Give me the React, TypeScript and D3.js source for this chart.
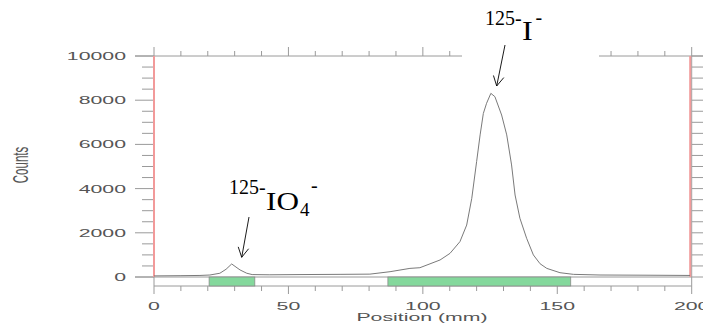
import * as d3 from 'd3'

// position (mm) vs counts
const positions = [0, 9.7, 17.1, 20.8, 24.5, 26.8, 28.9, 30.5, 32.0, 34.5, 36.5, 43.1, 54.3, 69.2, 80.3, 87.8, 95.2, 98.9, 106.4, 110.1, 113.8, 116.3, 118.2, 120.0, 121.3, 122.5, 123.7, 125.3, 126.8, 129.3, 131.2, 133.0, 134.3, 136.1, 138.6, 141.1, 143.6, 146.1, 151.0, 156.0, 165.9, 184.5, 199.4]
const counts = [50, 60, 70, 90, 170, 350, 590, 450, 320, 170, 110, 100, 110, 120, 130, 240, 390, 420, 770, 1070, 1600, 2350, 3560, 5220, 6430, 7400, 7860, 8310, 8160, 7330, 6430, 5070, 3710, 2660, 1750, 1000, 600, 390, 195, 120, 90, 80, 70]

// integration regions (mm)
const regionStart = [20.5, 87]
const regionEnd = [37.5, 155]

const yTickValues = [0, 2000, 4000, 6000, 8000, 10000]
const xTickValues = [0, 50, 100, 150, 200]

const W = 703
const H = 327
const axisColor = '#9a9a9a'
const labelColor = '#555'
const stretch = 1.85

const x = d3.scaleLinear().domain([0, 200]).range([154, 691.7])
const y = d3.scaleLinear().domain([0, 10000]).range([277, 56])
const stripBottom = 286

function StretchText({ tx, ty, anchor, children }: { tx: number; ty: number; anchor: string; children: string }) {
  return (
    <text
      transform={`translate(${tx},${ty}) scale(${stretch},1)`}
      textAnchor={anchor}
      fontFamily="'Liberation Sans', Arial, sans-serif"
      fontSize={11.5}
      fill={labelColor}
    >
      {children}
    </text>
  )
}

// hand-placed label pieces (serif, scanned so slightly distorted)
function Serif({ tx, ty, size, sx, children }: { tx: number; ty: number; size: number; sx: number; children: string }) {
  return (
    <text transform={`translate(${tx},${ty}) scale(${sx},1)`} fontSize={size}
      fontFamily="'Liberation Serif', 'Times New Roman', serif" fill="#000">
      {children}
    </text>
  )
}

function arrow(x1: number, y1: number, x2: number, y2: number) {
  const ang = Math.atan2(y2 - y1, x2 - x1)
  const len = 11
  const spread = 0.5
  const a1 = [x2 - len * Math.cos(ang - spread), y2 - len * Math.sin(ang - spread)]
  const a2 = [x2 - len * Math.cos(ang + spread), y2 - len * Math.sin(ang + spread)]
  return `M${x1},${y1}L${x2},${y2}M${a1[0]},${a1[1]}L${x2},${y2}L${a2[0]},${a2[1]}`
}

export default function App() {
  const line = d3.line<number>()
    .x((_, i) => x(positions[i]))
    .y((d) => y(d))

  const minorX = d3.range(0, 201, 10)
  const minorY = d3.range(0, 10001, 500)
  const x0 = x(0)
  const x1 = x(200)

  return (
    <svg width={W} height={H} style={{ position: 'absolute', left: 0, top: 0, background: '#fff' }}>
      <rect width={W} height={H} fill="#fff" />

      {/* frame lines */}
      <line x1={135} x2={W} y1={y(10000)} y2={y(10000)} stroke={axisColor} />
      <line x1={135} x2={x1} y1={y(0)} y2={y(0)} stroke={axisColor} />
      <line x1={x0} x2={x1} y1={stripBottom} y2={stripBottom} stroke={axisColor} />
      <line x1={x0} x2={x0} y1={y(10000)} y2={stripBottom} stroke={axisColor} />
      <line x1={x1} x2={x1} y1={y(10000)} y2={stripBottom} stroke={axisColor} />

      {/* left / right y ticks */}
      {minorY.map((v) => {
        const major = v % 2000 === 0
        return (
          <g key={'y' + v}>
            <line x1={major ? 135 : 142} x2={x0} y1={y(v)} y2={y(v)} stroke={axisColor} />
            <line x1={x1} x2={x1 + 12} y1={y(v)} y2={y(v)} stroke={axisColor} />
          </g>
        )
      })}

      {/* top and bottom x ticks */}
      {minorX.map((v) => {
        const major = v % 50 === 0
        return (
          <g key={'x' + v}>
            <line x1={x(v)} x2={x(v)} y1={y(10000)} y2={y(10000) - (major ? 9 : 5)} stroke={axisColor} />
            <line x1={x(v)} x2={x(v)} y1={stripBottom} y2={stripBottom + (major ? 8 : 5)} stroke={axisColor} />
          </g>
        )
      })}

      {/* integration regions */}
      {regionStart.map((s, i) => (
        <rect key={'r' + i} x={x(s)} y={y(0)} width={x(regionEnd[i]) - x(s)} height={stripBottom - y(0)}
          fill="#84d89c" stroke="#8a8a8a" strokeWidth={0.8} />
      ))}

      {/* red boundary markers */}
      <line x1={x0} x2={x0} y1={y(10000)} y2={y(0)} stroke="#f29a9a" strokeWidth={2} />
      <line x1={x1 - 1.5} x2={x1 - 1.5} y1={y(10000)} y2={y(0)} stroke="#f29a9a" strokeWidth={2} />

      {/* trace */}
      <path d={line(counts) || ''} fill="none" stroke="#7a7a7a" strokeWidth={1} />

      {/* axis labels */}
      {yTickValues.map((v) => (
        <StretchText key={'yl' + v} tx={126} ty={y(v) + 4} anchor="end">{String(v)}</StretchText>
      ))}
      {xTickValues.map((v) => (
        <StretchText key={'xl' + v} tx={x(v)} ty={309.5} anchor="middle">{String(v)}</StretchText>
      ))}
      <StretchText tx={422} ty={321} anchor="middle">Position (mm)</StretchText>
      <text
        transform={`translate(28,165) rotate(-90) scale(1,${stretch})`}
        textAnchor="middle"
        fontFamily="'Liberation Sans', Arial, sans-serif"
        fontSize={11.5}
        fill={labelColor}
      >
        Counts
      </text>

      {/* annotations */}
      <rect x={462} y={0} width={137} height={60} fill="#fff" />
      <Serif tx={229} ty={194} size={21} sx={0.95}>125-</Serif>
      <Serif tx={266} ty={210} size={26} sx={1.2}>IO</Serif>
      <Serif tx={300} ty={216} size={19} sx={1}>4</Serif>
      <Serif tx={311} ty={192} size={21} sx={0.95}>-</Serif>

      <Serif tx={485} ty={25} size={21} sx={0.95}>125-</Serif>
      <Serif tx={522} ty={40} size={27} sx={1.2}>I</Serif>
      <Serif tx={535.5} ty={24} size={21} sx={0.95}>-</Serif>

      <path d={arrow(249, 217, 241.7, 257.3)} fill="none" stroke="#000" strokeWidth={0.9} />
      <path d={arrow(505, 45, 496.7, 86)} fill="none" stroke="#000" strokeWidth={0.9} />
    </svg>
  )
}
